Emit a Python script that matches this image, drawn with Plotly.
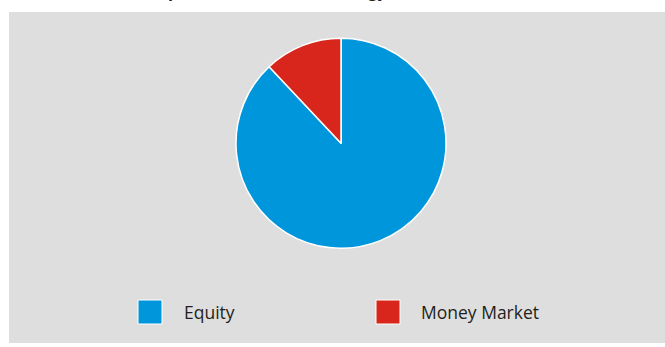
import plotly.graph_objects as go

W, H = 665, 347

title_text = "Composition of Assets Strategy, 2024"
labels = ["Equity", "Money Market"]
values = [88, 12]
colors = ["#0096DC", "#D9261C"]

def px(x):
    return x / W

def py(y):
    return 1 - y / H

fig = go.Figure()
fig.add_trace(go.Pie(
    labels=labels,
    values=values,
    sort=False,
    direction="clockwise",
    rotation=0,
    marker=dict(colors=colors, line=dict(color="white", width=1.5)),
    textinfo="none",
    hoverinfo="label+percent",
    showlegend=False,
    domain=dict(x=[px(236), px(446)], y=[py(248.5), py(38)]),
))

shapes = [dict(type="rect", xref="paper", yref="paper",
               x0=px(9), x1=px(665), y0=py(343), y1=py(12),
               fillcolor="#DEDEDE", line=dict(width=0), layer="below")]
annotations = []

legend_sq_x = [138, 376]
legend_txt_x = [182, 419]
for lab, col, sx, tx in zip(labels, colors, legend_sq_x, legend_txt_x):
    shapes.append(dict(type="rect", xref="paper", yref="paper",
                       x0=px(sx), x1=px(sx + 24), y0=py(324), y1=py(300),
                       fillcolor=col, line=dict(color="white", width=1)))
    annotations.append(dict(text=lab, xref="paper", yref="paper",
                            x=px(tx), y=py(312), xanchor="left", yanchor="middle",
                            showarrow=False,
                            font=dict(family="Open Sans, Noto Sans, sans-serif", size=17.5, color="#231F20")))

annotations.append(dict(text="<b>" + title_text + "</b>", xref="paper", yref="paper",
                        x=px(129), y=py(4.5), xanchor="left", yanchor="bottom",
                        showarrow=False,
                        font=dict(family="Open Sans, sans-serif", size=16.5, color="#231F20")))

fig.update_layout(
    width=W, height=H,
    margin=dict(l=0, r=0, t=0, b=0),
    paper_bgcolor="white",
    plot_bgcolor="white",
    shapes=shapes,
    annotations=annotations,
)

fig.write_html("out.html", config={"displayModeBar": False})
